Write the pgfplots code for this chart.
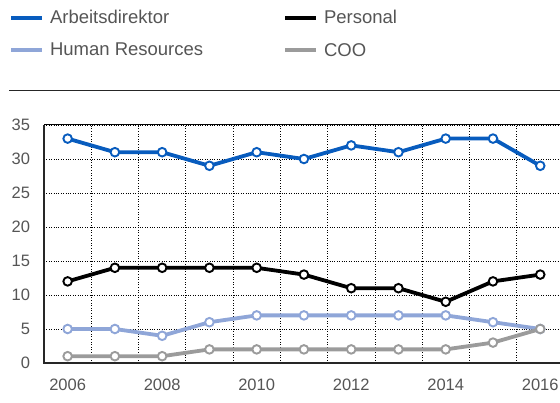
\documentclass[border=0pt]{standalone}
\usepackage{pgfplots}
\pgfplotsset{compat=1.18}
\usepackage{fontspec}
\setmainfont{Liberation Sans}
\definecolor{cblue}{RGB}{8,92,190}
\definecolor{clblue}{RGB}{143,166,216}
\definecolor{cgray}{RGB}{155,155,155}
\definecolor{txt}{RGB}{85,85,85}
\begin{document}
\begin{tikzpicture}[x=1pt,y=1pt]
\path[use as bounding box] (0,0) rectangle (560,403);
\draw[line width=1pt, black!85] (9,312.3) -- (560,312.3);
\begin{axis}[
  at={(44pt,40pt)}, anchor=south west,
  scale only axis, width=516pt, height=238pt,
  xmin=2005.5, xmax=2016.418, ymin=0, ymax=35,
  xtick={2006,2008,...,2016}, ytick={0,5,...,35},
  minor xtick={2006.5,2007.5,...,2015.5},
  xminorgrids=true, xmajorgrids=false, ymajorgrids=true,
  grid style={dotted, black, line width=0.6pt},
  minor grid style={dotted, black, line width=0.6pt},
  major tick length=0pt, minor tick length=0pt,
  tick label style={font=\fontsize{16.5}{18}\selectfont, text=txt},
  /pgf/number format/assume math mode=true,
  xticklabel style={/pgf/number format/1000 sep={}, yshift=-12.5pt},
  yticklabel style={xshift=-10.5pt},
  axis line style={draw=none},
  clip=false,
  legend columns=2,
  legend cell align=left,
  legend style={at={(axis description cs:-0.0678,1)}, anchor=north west, yshift=119pt, xshift=-3pt,
    draw=none, fill=none, font=\fontsize{18.5}{20}\selectfont, text=txt,
    /tikz/every odd column/.append style={column sep=4pt},
    /tikz/every even column/.append style={column sep=78pt},
    row sep=14pt},
  legend image code/.code={\draw[#1, line width=3.8pt] (0pt,0pt) -- (31pt,0pt);},
  every axis plot/.append style={line width=3.8pt, mark=*, mark size=4.3pt,
    mark options={fill=white, line width=1.9pt, solid}},
]
\addplot[cblue] coordinates {(2006,33)(2007,31)(2008,31)(2009,29)(2010,31)(2011,30)(2012,32)(2013,31)(2014,33)(2015,33)(2016,29)};
\addlegendentry{Arbeitsdirektor}
\addplot[black] coordinates {(2006,12)(2007,14)(2008,14)(2009,14)(2010,14)(2011,13)(2012,11)(2013,11)(2014,9)(2015,12)(2016,13)};
\addlegendentry{Personal}
\addplot[clblue] coordinates {(2006,5)(2007,5)(2008,4)(2009,6)(2010,7)(2011,7)(2012,7)(2013,7)(2014,7)(2015,6)(2016,5)};
\addlegendentry{Human Resources}
\addplot[cgray] coordinates {(2006,1)(2007,1)(2008,1)(2009,2)(2010,2)(2011,2)(2012,2)(2013,2)(2014,2)(2015,3)(2016,5)};
\addlegendentry{COO}
\draw[line width=1.2pt, black!85] (rel axis cs:0,1) -- (rel axis cs:0,0) -- (rel axis cs:1,0);
\draw[line width=1pt, black] (rel axis cs:0,1) -- (rel axis cs:1,1);
\end{axis}
\end{tikzpicture}
\end{document}
